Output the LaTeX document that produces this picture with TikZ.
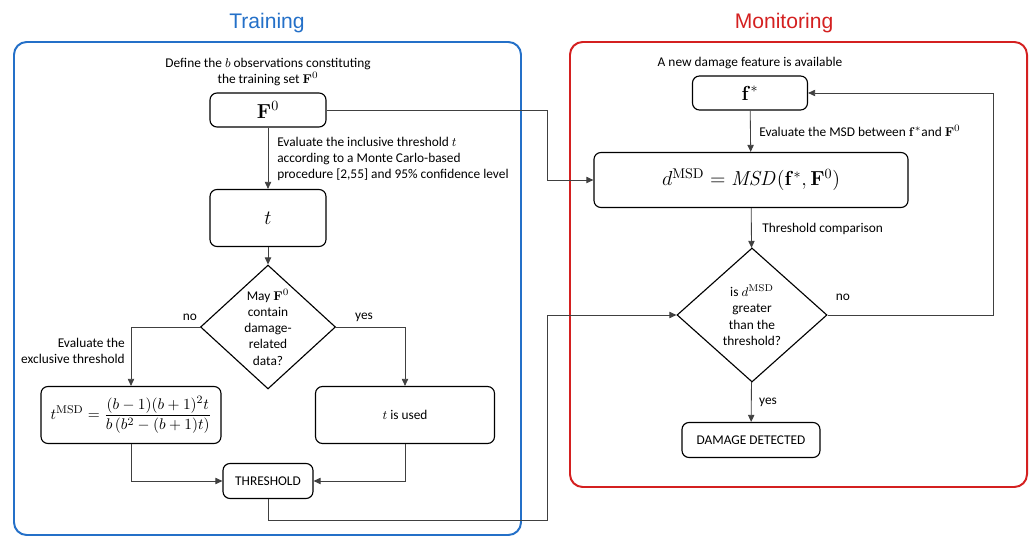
\documentclass[tikz,border=0pt]{standalone}
\usepackage[no-math]{fontspec}
\usepackage{amsmath,amssymb}
\setmainfont{Carlito}
\newfontfamily\headfont{Liberation Sans}
\usetikzlibrary{arrows.meta,shapes.geometric}

\definecolor{trainblue}{RGB}{36,112,200}
\definecolor{monitorred}{RGB}{212,32,32}
\definecolor{linegray}{RGB}{64,64,64}

\begin{document}
\begin{tikzpicture}[x=0.025cm, y=-0.025cm,
    font=\fontsize{9.5}{11.5}\selectfont,
    box/.style={rectangle, draw, rounded corners=5pt, line width=0.8pt, align=center, inner sep=0pt},
    decision/.style={diamond, draw, line width=0.8pt, align=center, inner sep=0pt},
    lbl/.style={align=left, inner sep=0pt},
    conn/.style={draw=linegray, line width=0.6pt, -{Triangle[length=5pt,width=4.5pt]}},
    frame/.style={line width=1.4pt, rounded corners=9pt},
    heading/.style={font=\headfont\fontsize{15}{18}\selectfont, inner sep=0pt}]
    \useasboundingbox (0,0) rectangle (1031,536);

    % frames and headings
    \draw[frame, draw=trainblue] (14,42) rectangle (521,535);
    \draw[frame, draw=monitorred] (570,42) rectangle (1027,487);
    \node[heading, text=trainblue] (trainhead) at (267,23) {Training};
    \node[heading, text=monitorred] (monhead) at (784,23) {Monitoring};

    % training
    \node[lbl, align=center] (definetxt) at (268,72) {Define the $b$ observations constituting\\the training set $\mathbf{F}^0$};
    \node[box, minimum width=2.9cm, minimum height=0.85cm] (F0) at (268,110) {\Large$\mathbf{F}^0$};
    \node[lbl, anchor=west] (inclusivetxt) at (277,159) {Evaluate the inclusive threshold $t$\\according to a Monte Carlo-based\\procedure [2,55] and 95\% confidence level};
    \node[box, minimum width=2.9cm, minimum height=1.425cm] (t) at (268,218) {\Large$t$};
    \node[decision, minimum width=3.375cm, minimum height=3cm] (may) at (268,327) {May $\mathbf{F}^0$\\contain\\damage-\\related\\data?};
    \node[lbl, align=right, anchor=east] (exclusivetxt) at (125,351) {Evaluate the\\exclusive threshold};
    \node[box, minimum width=4.5cm, minimum height=1.425cm, font=\fontsize{10.8}{13}\selectfont] (tmsd) at (131,415) {$\displaystyle t^{\mathrm{MSD}}=\frac{(b-1)(b+1)^2t}{b\left(b^2-(b+1)t\right)}$};
    \node[box, minimum width=4.475cm, minimum height=1.425cm] (tused) at (405,415) {$t$ is used};
    \node[box, minimum width=2.25cm, minimum height=0.875cm] (thr) at (268,481) {THRESHOLD};
    \node[lbl] (notrain) at (190,317) {no};
    \node[lbl] (yestrain) at (364,317) {yes};

    % monitoring
    \node[lbl] (newtxt) at (750,63) {A new damage feature is available};
    \node[box, minimum width=2.875cm, minimum height=0.85cm] (fstar) at (750,93) {\Large$\mathbf{f}^*$};
    \node[lbl, anchor=west] (msdtxt) at (759,131) {Evaluate the MSD between $\mathbf{f}^*$and $\mathbf{F}^0$};
    \node[box, minimum width=7.85cm, minimum height=1.375cm] (msd) at (751,180) {\Large$d^{\mathrm{MSD}}=\mathit{MSD}(\mathbf{f}^*,\mathbf{F}^0)$};
    \node[lbl, anchor=west] (comptxt) at (762,229) {Threshold comparison};
    \node[decision, minimum width=3.75cm, minimum height=3.35cm] (isd) at (752,315) {is $d^{\mathrm{MSD}}$\\greater\\than the\\threshold?};
    \node[lbl] (nomon) at (843,297) {no};
    \node[lbl] (yesmon) at (768,402) {yes};
    \node[box, minimum width=3.45cm, minimum height=0.875cm] (dd) at (751,440) {DAMAGE DETECTED};

    \coordinate (jog) at (547,180);
    \coordinate (lowleft) at (547,520);
    \coordinate (loopright) at (993,315);

    \draw[conn] (F0) -- (t);
    \draw[conn] (t) -- (may);
    \draw[conn] (may.west) -| (tmsd.north);
    \draw[conn] (may.east) -| (tused.north);
    \draw[conn] (tmsd.south) |- (thr.west);
    \draw[conn] (tused.south) |- (thr.east);
    \draw[conn] (thr.south) |- (lowleft) |- (isd.west);
    \draw[conn] (F0.east) -| (jog) -- (msd.west);
    \draw[conn] (fstar) -- (msd);
    \draw[conn] (msd) -- (isd);
    \draw[conn] (isd) -- (dd);
    \draw[conn] (isd.east) -- (loopright) |- (fstar.east);
\end{tikzpicture}
\end{document}
